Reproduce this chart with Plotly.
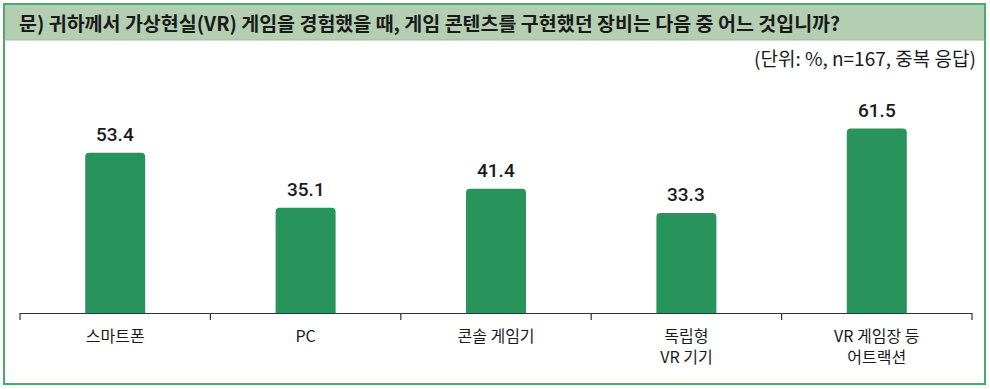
import plotly.graph_objects as go

categories = ["스마트폰", "PC", "콘솔 게임기", "독립형<br>VR 기기", "VR 게임장 등<br>어트랙션"]
values = [53.4, 35.1, 41.4, 33.3, 61.5]
value_labels = ["53.4", "35.1", "41.4", "33.3", "61.5"]

title_text = "문) 귀하께서 가상현실(VR) 게임을 경험했을 때, 게임 콘텐츠를 구현했던 장비는 다음 중 어느 것입니까?"
unit_text = "(단위: %, n=167, 중복 응답)"

W, H = 990, 389
L, R, T, B = 20, 18, 65, 76
PW, PH = W - L - R, H - T - B

def px(x):
    return (x - L) / PW

def py(y):
    return (H - B - y) / PH

FONT = "Noto Sans CJK KR"
BAR = "#28935b"

fig = go.Figure()
fig.add_trace(go.Bar(
    x=categories, y=values,
    marker=dict(color=BAR, cornerradius=4, line=dict(width=0)),
    width=0.315, cliponaxis=False,
))

shapes = [
    dict(type="rect", xref="paper", yref="paper",
         x0=px(4), x1=px(985), y0=py(40), y1=py(4),
         fillcolor="#b3ceb1", line=dict(width=0), layer="below"),
    dict(type="rect", xref="paper", yref="paper",
         x0=px(4), x1=px(985), y0=py(384), y1=py(4),
         fillcolor="rgba(0,0,0,0)", line=dict(color="#4aaa6c", width=2)),
    dict(type="line", xref="paper", yref="paper",
         x0=px(4), x1=px(985), y0=py(40), y1=py(40),
         line=dict(color="#9dbf9b", width=1)),
]
n = len(categories)
for i in range(n + 1):
    shapes.append(dict(type="line", xref="paper", yref="paper",
                       x0=i / n, x1=i / n, y0=0, y1=py(320),
                       line=dict(color="#333333", width=1.2)))

annotations = [
    dict(text="<b>" + title_text + "</b>", xref="paper", yref="paper",
         x=px(17), y=py(22), xanchor="left", yanchor="middle", showarrow=False,
         font=dict(family=FONT, size=19.5, color="#1a1a1a")),
    dict(text=unit_text, xref="paper", yref="paper",
         x=px(978), y=py(58), xanchor="right", yanchor="middle", showarrow=False,
         font=dict(family=FONT, size=19, color="#1a1a1a")),
]
for c, v, t in zip(categories, values, value_labels):
    annotations.append(dict(text=t, x=c, y=v, xref="x", yref="y",
                            yanchor="bottom", yshift=5, showarrow=False,
                            font=dict(family="Roboto", size=19, color="#1a1a1a", weight=500)))

fig.update_layout(
    width=W, height=H,
    margin=dict(l=L, r=R, t=T, b=B),
    paper_bgcolor="white", plot_bgcolor="white",
    showlegend=False,
    shapes=shapes,
    xaxis=dict(showline=True, linecolor="#333333", linewidth=1.2,
               ticks="", showgrid=False, ticklabelstandoff=9,
               tickfont=dict(family=FONT, size=16, color="#1a1a1a"),
               fixedrange=True),
    yaxis=dict(range=[0, PH / 3.0], visible=False, showgrid=False, fixedrange=True),
    annotations=annotations,
)

fig.write_html("out.html", config={"displayModeBar": False},
               post_script="document.body.style.margin='0';document.body.style.overflow='hidden';")
